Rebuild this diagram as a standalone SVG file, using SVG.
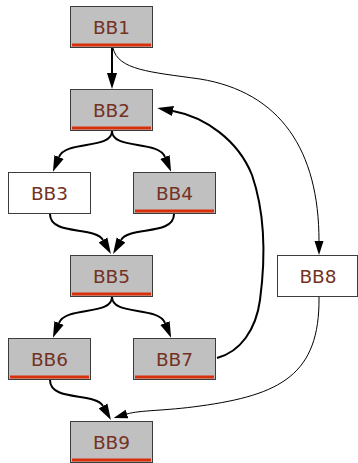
<svg xmlns="http://www.w3.org/2000/svg" width="358" height="463" viewBox="0 0 358 463">
<style>
.box{stroke:#3c3c3c;stroke-width:1}
.g{fill:#c0c0c0}
.w{fill:#ffffff}
.bar{fill:#d9300c}
.lbl{font-family:"DejaVu Sans",Verdana,sans-serif;font-size:18.5px;fill:#733224;text-anchor:middle}
.e{fill:none;stroke:#000}
.thick{stroke-width:2;marker-end:url(#ah)}
.thin{stroke-width:1;marker-end:url(#at)}
</style>
<defs>
<marker id="ah" markerUnits="userSpaceOnUse" markerWidth="17" markerHeight="12" refX="0" refY="6" orient="auto" viewBox="0 0 17 12">
<path d="M0,1 L16,6 L0,11 z" fill="#000"/>
</marker>
<marker id="at" markerUnits="userSpaceOnUse" markerWidth="15" markerHeight="10" refX="0" refY="5" orient="auto" viewBox="0 0 15 10">
<path d="M0,0.5 L14,5 L0,9.5 z" fill="#000"/>
</marker>
</defs>
<g id="edges">
<path class="e thick" d="M112,48 L112,73"/>
<path class="e thin" d="M113,48 C118,70 150,72 200,79 C280,92 319,150 319,241"/>
<path class="e thick" d="M217,358 C240,352 256,330 260,300 C266,255 264,210 252,175 C238,140 205,117 173,111"/>
<path class="e thick" d="M112,131 C112,150 66,140 59,157"/>
<path class="e thick" d="M112,131 C112,150 158,140 165,157"/>
<path class="e thick" d="M50,214 C50,236 95,226 103,240"/>
<path class="e thick" d="M174,214 C174,236 129,226 121,240"/>
<path class="e thick" d="M112,297 C112,316 66,306 59,323"/>
<path class="e thick" d="M112,297 C112,316 158,306 165,323"/>
<path class="e thick" d="M50,380 C50,402 95,392 103,406"/>
<path class="e thin" d="M319,297 C320,375 280,395 200,406 C165,411 140,410 127,414"/>
</g>
<g id="BB1"><rect class="box g" x="70.5" y="6.5" width="82" height="41"/><rect class="bar" x="72" y="43.5" width="79" height="3"/><text class="lbl" x="111.5" y="34.3">BB1</text></g>
<g id="BB2"><rect class="box g" x="70.5" y="89.5" width="82" height="41"/><rect class="bar" x="72" y="126.5" width="79" height="3"/><text class="lbl" x="111.5" y="117.3">BB2</text></g>
<g id="BB3"><rect class="box w" x="8.5" y="172.5" width="82" height="41"/><text class="lbl" x="49.5" y="200.3">BB3</text></g>
<g id="BB4"><rect class="box g" x="133.5" y="172.5" width="82" height="41"/><rect class="bar" x="135" y="209.5" width="79" height="3"/><text class="lbl" x="174.5" y="200.3">BB4</text></g>
<g id="BB5"><rect class="box g" x="70.5" y="255.5" width="82" height="41"/><rect class="bar" x="72" y="292.5" width="79" height="3"/><text class="lbl" x="111.5" y="283.3">BB5</text></g>
<g id="BB6"><rect class="box g" x="8.5" y="338.5" width="82" height="41"/><rect class="bar" x="10" y="375.5" width="79" height="3"/><text class="lbl" x="49.5" y="366.3">BB6</text></g>
<g id="BB7"><rect class="box g" x="133.5" y="338.5" width="82" height="41"/><rect class="bar" x="135" y="375.5" width="79" height="3"/><text class="lbl" x="174.5" y="366.3">BB7</text></g>
<g id="BB8"><rect class="box w" x="277.5" y="255.5" width="80" height="41"/><text class="lbl" x="318" y="283.3">BB8</text></g>
<g id="BB9"><rect class="box g" x="70.5" y="421.5" width="82" height="41"/><rect class="bar" x="72" y="458.5" width="79" height="3"/><text class="lbl" x="111.5" y="449.3">BB9</text></g>
</svg>
